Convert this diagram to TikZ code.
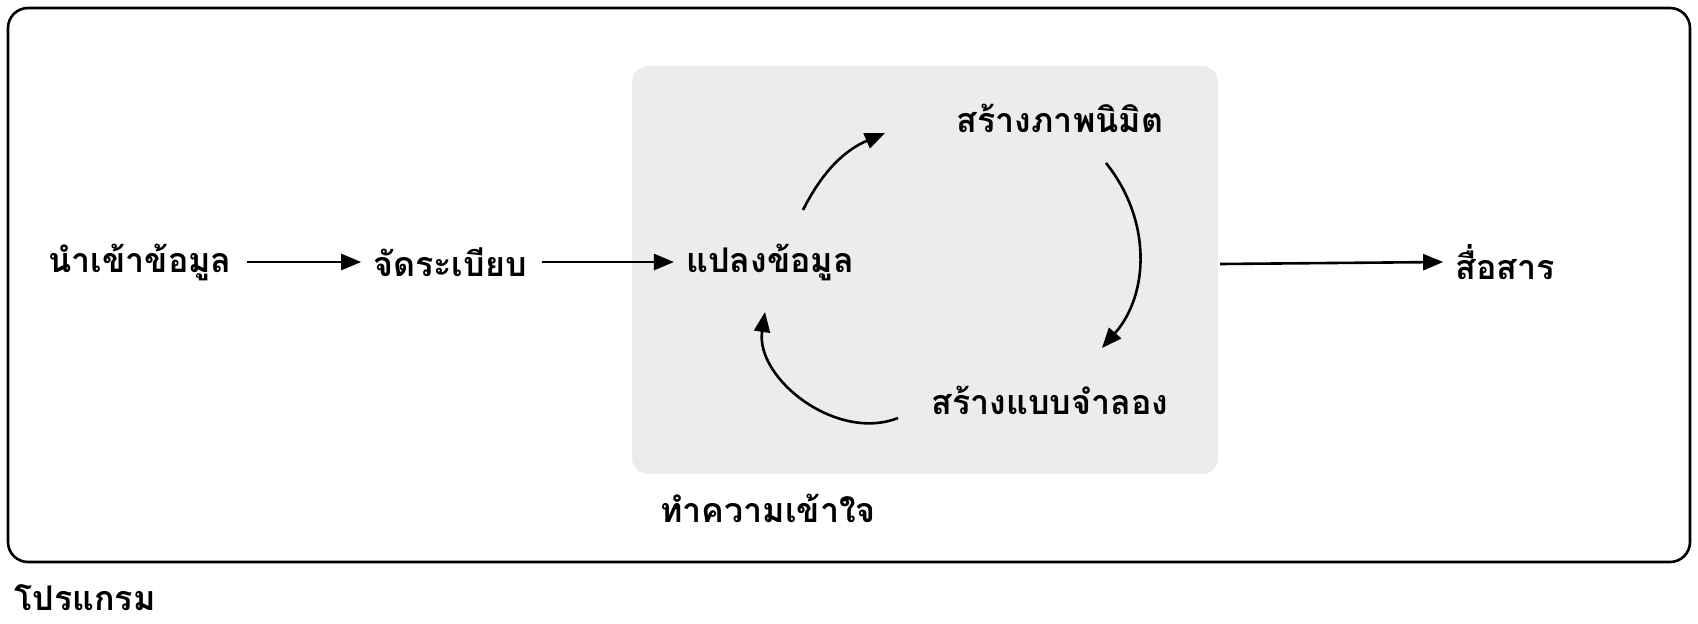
\documentclass[tikz,border=0pt]{standalone}
\usepackage{fontspec}
\newfontfamily\thaifont[Script=Thai]{Loma}
\usetikzlibrary{arrows.meta,calc}
\begin{document}
\begin{tikzpicture}[x=1pt,y=-1pt,
  lbl/.style={font=\thaifont\bfseries\fontsize{34}{40}\selectfont,inner sep=0pt},
  arr/.style={line width=2.6pt,-{Triangle[length=20pt,width=16pt]}}]
\useasboundingbox (0,0) rectangle (1698,624);
\draw[line width=2.6pt,rounded corners=20pt] (8,8) rectangle (1690,562);
\fill[gray!15,rounded corners=16pt] (632,66) rectangle (1218,474);
\node[lbl] (a) at (140,262) {นำเข้าข้อมูล};
\node[lbl] (b) at (450,262) {จัดระเบียบ};
\node[lbl] (c) at (770,262) {แปลงข้อมูล};
\node[lbl] (d) at (1060,118) {สร้างภาพนิมิต};
\node[lbl] (e) at (1050,400) {สร้างแบบจำลอง};
\node[lbl] (f) at (1505,262) {สื่อสาร};
\node[lbl] (g) at (768,508) {ทำความเข้าใจ};
\node[lbl] (h) at (85,598) {โปรแกรม};
\coordinate (c1) at (803,210);
\coordinate (d1) at (885,133);
\coordinate (d2) at (1106,163);
\coordinate (e1) at (1102,348);
\coordinate (e2) at (898,418);
\coordinate (c2) at (765,312);
\coordinate (fr) at (1220,264);
\draw[arr] ($(a.east)+(15,0)$) -- ($(b.west)+(-12,0)$);
\draw[arr] ($(b.east)+(15,0)$) -- ($(c.west)+(-12,0)$);
\draw[arr] (fr) -- ($(f.west)+(-12,0)$);
\draw[arr] (c1) to[bend left=20] (d1);
\draw[arr] (d2) to[bend left=40] (e1);
\draw[arr] (e2) to[bend left=60] (c2);
\end{tikzpicture}
\end{document}
